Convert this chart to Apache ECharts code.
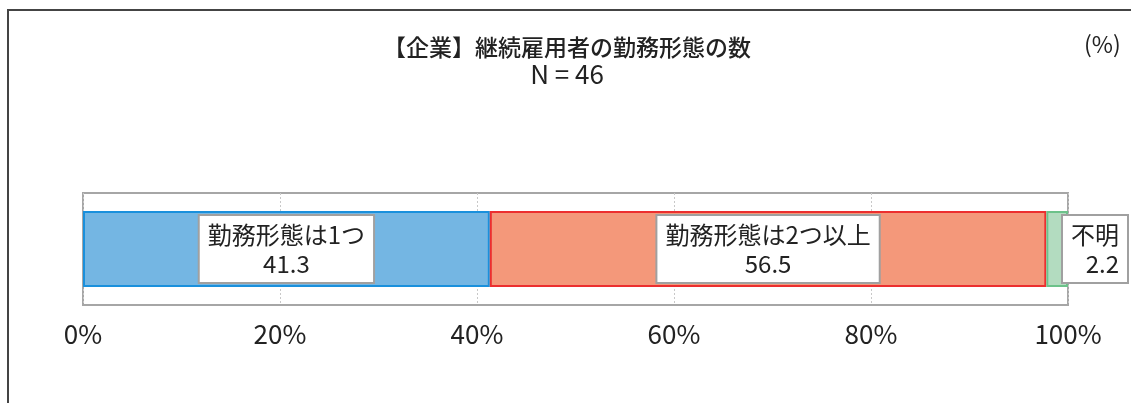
<!DOCTYPE html>
<html><head><meta charset="utf-8">
<script src="https://cdn.jsdelivr.net/npm/echarts@6/dist/echarts.min.js"></script>
<style>html,body{margin:0;padding:0;background:#fff}#c{width:1131px;height:403px}</style>
</head><body><div id="c"></div>
<script>
const titleText = '【企業】継続雇用者の勤務形態の数';
const subtitleText = 'N = 46';
const unitText = '(%)';
const categories = ['全体'];
const seriesNames = ['勤務形態は1つ', '勤務形態は2つ以上', '不明'];
const values1 = [41.3];
const values2 = [56.5];
const values3 = [2.2];
const xTicks = [0, 20, 40, 60, 80, 100];

const fontFam = '"Noto Sans CJK JP", "Noto Sans", sans-serif';
const fills = ['#74b6e3', '#f4987a', '#b3dcc0'];
const borders = ['#1a90dc', '#ec2f2f', '#6cc28a'];
const seriesData = [values1, values2, values3];

const labelBase = {
  show: true,
  color: '#222',
  fontFamily: fontFam,
  fontSize: 24,
  lineHeight: 29,
  backgroundColor: '#fff',
  borderColor: '#a0a0a0',
  borderWidth: 2,
  padding: [4, 8, 4, 8]
};

const series = seriesNames.map((name, i) => {
  const label = Object.assign({}, labelBase, {
    formatter: p => p.seriesName + '\n' + p.value.toFixed(1)
  });
  if (i === 2) {
    label.position = 'right';
    label.distance = -5;
    label.padding = [4, 8, 4, 8];
    label.formatter = p => '{r|' + p.seriesName + '}\n{r|' + p.value.toFixed(1) + '}';
    label.rich = { r: { align: 'right', fontSize: 24, lineHeight: 29, fontFamily: fontFam, color: '#222' } };
  } else {
    label.position = 'inside';
  }
  return {
    name: name,
    type: 'bar',
    stack: 'total',
    barWidth: 76,
    data: seriesData[i],
    itemStyle: { color: fills[i], borderColor: borders[i], borderWidth: 2 },
    label: label,
    z: 2 + i
  };
});

const chart = echarts.init(document.getElementById('c'));
chart.setOption({
  animation: false,
  graphic: [
    { type: 'polyline', shape: { points: [[8, 403], [8, 10], [1131, 10]] }, style: { stroke: '#444', lineWidth: 2, fill: null } },
    { type: 'text', left: 1084, top: 33, style: { text: unitText, font: '23px ' + fontFam, fill: '#222' } }
  ],
  title: {
    text: titleText,
    subtext: subtitleText,
    left: 562,
    textAlign: 'center',
    top: 31,
    itemGap: 2,
    textStyle: { fontFamily: fontFam, fontSize: 23, fontWeight: 500, color: '#222' },
    subtextStyle: { fontFamily: fontFam, fontSize: 26, color: '#222' }
  },
  grid: { left: 83, right: 63, top: 193, bottom: 98, show: true, borderColor: '#a6a6a6', borderWidth: 2, backgroundColor: 'transparent' },
  xAxis: {
    type: 'value', min: 0, max: 100, interval: 20,
    axisLine: { show: false }, axisTick: { show: false },
    splitLine: { show: true, lineStyle: { color: '#c8c8c8', type: [2, 2], width: 1 } },
    axisLabel: { formatter: v => xTicks.includes(v) ? v + '%' : '', fontFamily: fontFam, fontSize: 26, color: '#222', margin: 16 }
  },
  yAxis: {
    type: 'category', data: categories,
    axisLine: { show: false }, axisTick: { show: false }, axisLabel: { show: false }
  },
  series: series
});
</script></body></html>
